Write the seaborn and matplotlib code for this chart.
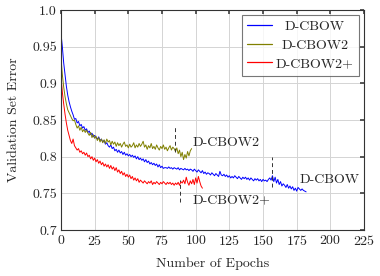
import numpy as np
import pandas as pd
import seaborn as sns
import matplotlib.pyplot as plt

sns.set_theme(style="whitegrid")
plt.rcParams['font.family'] = ['cmr10', 'DejaVu Serif']
plt.rcParams['axes.formatter.use_mathtext'] = True

# validation error per epoch
dcbow = [0.968, 0.950, 0.928, 0.912, 0.896, 0.884, 0.875, 0.868, 0.862, 0.857,
         0.851, 0.852, 0.846, 0.848, 0.842, 0.844, 0.839, 0.841, 0.836, 0.838,
         0.833, 0.835, 0.830, 0.832, 0.827, 0.829, 0.826, 0.824, 0.827, 0.822,
         0.824, 0.820, 0.822, 0.817, 0.819, 0.815, 0.813, 0.816, 0.811, 0.813,
         0.808, 0.810, 0.806, 0.809, 0.805, 0.807, 0.803, 0.806, 0.802, 0.804,
         0.801, 0.803, 0.800, 0.802, 0.799, 0.801, 0.797, 0.800, 0.796, 0.798,
         0.795, 0.797, 0.793, 0.796, 0.792, 0.794, 0.790, 0.792, 0.789, 0.791,
         0.788, 0.790, 0.786, 0.789, 0.785, 0.787, 0.784, 0.785, 0.785, 0.784,
         0.786, 0.784, 0.785, 0.783, 0.785, 0.784, 0.783, 0.785, 0.782, 0.784,
         0.783, 0.782, 0.784, 0.782, 0.783, 0.781, 0.783, 0.782, 0.780, 0.783,
         0.781, 0.779, 0.782, 0.780, 0.778, 0.781, 0.777, 0.779, 0.776, 0.778,
         0.777, 0.775, 0.778, 0.776, 0.774, 0.777, 0.775, 0.773, 0.780, 0.775,
         0.774, 0.776, 0.773, 0.775, 0.772, 0.774, 0.771, 0.773, 0.771, 0.774,
         0.772, 0.770, 0.773, 0.771, 0.769, 0.772, 0.770, 0.772, 0.769, 0.771,
         0.768, 0.771, 0.769, 0.767, 0.770, 0.768, 0.770, 0.767, 0.769, 0.766,
         0.769, 0.767, 0.768, 0.766, 0.769, 0.771, 0.768, 0.774, 0.766, 0.772,
         0.764, 0.769, 0.762, 0.766, 0.760, 0.763, 0.761, 0.758, 0.762, 0.757,
         0.760, 0.756, 0.759, 0.754, 0.757, 0.753, 0.758, 0.756, 0.754, 0.756,
         0.754, 0.753, 0.752]

dcbow2 = [0.935, 0.912, 0.895, 0.882, 0.872, 0.864, 0.860, 0.856, 0.852, 0.849,
          0.850, 0.844, 0.839, 0.842, 0.836, 0.840, 0.834, 0.837, 0.833, 0.836,
          0.832, 0.829, 0.833, 0.826, 0.830, 0.825, 0.828, 0.822, 0.826, 0.820,
          0.824, 0.819, 0.823, 0.818, 0.824, 0.820, 0.822, 0.816, 0.821, 0.817,
          0.820, 0.814, 0.819, 0.815, 0.818, 0.813, 0.817, 0.820, 0.814, 0.816,
          0.812, 0.817, 0.813, 0.815, 0.819, 0.812, 0.816, 0.813, 0.818, 0.814,
          0.817, 0.821, 0.813, 0.816, 0.810, 0.815, 0.812, 0.818, 0.811, 0.814,
          0.810, 0.816, 0.812, 0.809, 0.814, 0.811, 0.816, 0.810, 0.813, 0.808,
          0.812, 0.815, 0.809, 0.813, 0.811, 0.807, 0.812, 0.804, 0.809, 0.800,
          0.806, 0.796, 0.803, 0.798, 0.807, 0.801, 0.808, 0.811]

dcbow2p = [0.909, 0.888, 0.872, 0.858, 0.846, 0.836, 0.829, 0.822, 0.818, 0.824,
           0.815, 0.812, 0.809, 0.811, 0.806, 0.808, 0.804, 0.806, 0.802, 0.805,
           0.800, 0.802, 0.797, 0.800, 0.795, 0.798, 0.793, 0.796, 0.791, 0.794,
           0.789, 0.792, 0.787, 0.790, 0.786, 0.789, 0.784, 0.788, 0.783, 0.786,
           0.781, 0.785, 0.779, 0.782, 0.777, 0.780, 0.775, 0.778, 0.773, 0.776,
           0.772, 0.775, 0.770, 0.773, 0.768, 0.771, 0.767, 0.770, 0.765, 0.768,
           0.766, 0.764, 0.767, 0.765, 0.763, 0.766, 0.764, 0.767, 0.762, 0.765,
           0.763, 0.766, 0.764, 0.762, 0.765, 0.763, 0.766, 0.764, 0.762, 0.765,
           0.763, 0.765, 0.762, 0.764, 0.761, 0.764, 0.762, 0.765, 0.761, 0.766,
           0.764, 0.768, 0.763, 0.772, 0.765, 0.761, 0.767, 0.763, 0.769, 0.762,
           0.771, 0.764, 0.773, 0.766, 0.760, 0.757]

names = ["D-CBOW", "D-CBOW2", "D-CBOW2+"]
colors = ["#0000ff", "#808000", "#ff0000"]

# dashed markers: (epoch, y from, y to)
stops = [(85, 0.806, 0.841), (88, 0.738, 0.768), (157, 0.759, 0.800)]
# annotation labels: (text, epoch, y)
notes = [("D-CBOW2", 98, 0.819), ("D-CBOW2+", 98, 0.740), ("D-CBOW", 177, 0.768)]

xticks = [0, 25, 50, 75, 100, 125, 150, 175, 200, 225]
yticks = [0.7, 0.75, 0.8, 0.85, 0.9, 0.95, 1.0]
ylabels = ["0.7", "0.75", "0.8", "0.85", "0.9", "0.95", "1.0"]

fig = plt.figure(figsize=(3.8, 2.76), dpi=100)
ax = fig.add_axes([0.1605, 0.1667, 0.7975, 0.797])

for name, vals, c in zip(names, [dcbow, dcbow2, dcbow2p], colors):
    d = pd.DataFrame({"epoch": np.arange(len(vals)), "err": vals})
    sns.lineplot(data=d, x="epoch", y="err", color=c, lw=0.7, label=name, ax=ax)

for ep, y0, y1 in stops:
    ax.plot([ep, ep], [y0, y1], color="#333333", lw=0.7, ls=(0, (4, 3)))

for txt, ep, y in notes:
    ax.text(ep, y, txt, fontsize=10, va="center", ha="left")

ax.set_xlim(0, 225)
ax.set_ylim(0.7, 1.0)
ax.set_xticks(xticks)
ax.set_yticks(yticks)
ax.set_yticklabels(ylabels)
ax.tick_params(labelsize=10, direction="in", length=3, top=True, right=True,
               color="#444444", pad=3)
ax.set_xlabel("Number of Epochs", fontsize=10, labelpad=7)
ax.set_ylabel("Validation Set Error", fontsize=10, labelpad=9)
ax.grid(True, color="#d4d4d4", lw=0.7)
for s in ax.spines.values():
    s.set_color("#333333")
    s.set_linewidth(0.8)

leg = ax.legend(loc="upper right", fontsize=10, frameon=True, fancybox=False,
                borderpad=0.4, labelspacing=0.42, handlelength=1.75,
                handletextpad=0.3, borderaxespad=0.35)
leg.get_frame().set_edgecolor("#555555")
leg.get_frame().set_linewidth(0.8)
for h, c in zip(leg.legend_handles, colors):
    h.set_color(c)
    h.set_linewidth(0.9)

# centre the legend entries like pgfplots does
fig.canvas.draw()
widths = [t.get_window_extent().width for t in leg.get_texts()]
for t, w in zip(leg.get_texts(), widths):
    t.set_position(((max(widths) - w) / 2, 0))

fig.savefig("out.png", dpi=100)
